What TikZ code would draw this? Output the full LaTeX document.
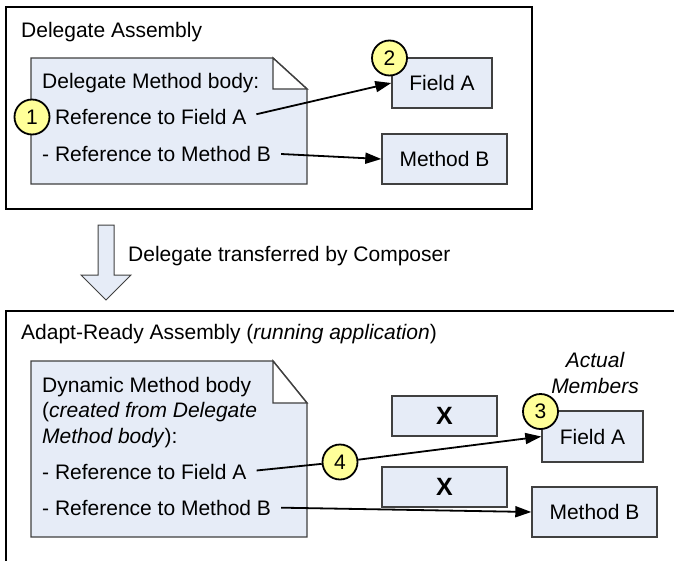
\documentclass[tikz,border=0pt]{standalone}
\usepackage{fontspec}
\setmainfont{Liberation Sans}
\usetikzlibrary{arrows.meta}
\definecolor{paleblue}{HTML}{E6ECF7}
\definecolor{paleyellow}{HTML}{FFFF99}
\definecolor{edgegray}{HTML}{404040}

\begin{document}
\begin{tikzpicture}[x=1pt,y=-1pt,
  font=\fontsize{21}{25}\selectfont,
  frame/.style={draw=black, line width=2pt},
  notebox/.style={draw=edgegray, fill=paleblue, line width=1.4pt, line join=miter},
  member/.style={draw=edgegray, fill=paleblue, line width=1.4pt, inner sep=0pt},
  txt/.style={anchor=base west, inner sep=0pt},
  badge/.style={circle, draw=black, fill=paleyellow, line width=1.8pt,
    minimum size=35pt, inner sep=0pt},
  conn/.style={line width=1.8pt, -{Triangle[length=16pt,width=11pt]}},
  link/.style={line width=1.8pt},
]
\useasboundingbox (0,0) rectangle (674,560);

% ---------- Delegate Assembly ----------
\draw[frame] (6,7) rectangle (532,209);
\node[txt] (t1) at (21,37) {Delegate Assembly};

% note with folded corner
\draw[notebox] (31,58) -- (273,58) -- (307,89) -- (307,184) -- (31,184) -- cycle;
\draw[notebox, fill=white] (273,58) -- (273,89) -- (307,89) -- cycle;
\node[txt] (n1a) at (42,88) {Delegate Method body:};
\node[txt] (n1b) at (42,124) {- Reference to Field A};
\node[txt] (n1c) at (42,161) {- Reference to Method B};

\node[member, minimum width=100pt, minimum height=50pt] (fa1) at (442,83) {Field A};
\node[member, minimum width=125pt, minimum height=50pt] (mb1) at (444.5,159) {Method B};

\draw[conn, shorten <=10pt] (n1b.east) -- (fa1.west);
\draw[conn, shorten <=10pt] (n1c.east) -- (mb1.west);

\node[badge] (c1) at (32,117) {1};
\node[badge] (c2) at (389.5,58) {2};

% ---------- transfer arrow ----------
\draw[draw=edgegray, fill=paleblue, line width=1pt, line join=miter]
  (98,225) -- (114,225) -- (114,275) -- (131,275) -- (106,300)
  -- (81,275) -- (98,275) -- cycle;
\node[txt] (tr) at (128,261) {Delegate transferred by Composer};

% ---------- Adapt-Ready Assembly ----------
\begin{scope}
  \clip (0,0) rectangle (674,560);
  \draw[frame] (6,311) rectangle (700,600);
\end{scope}
\node[txt] (t2) at (21,339) {Adapt-Ready Assembly (\textit{running application})};

\draw[notebox] (31,361) -- (273,361) -- (307,403) -- (307,537) -- (31,537) -- cycle;
\draw[notebox, fill=white] (273,361) -- (273,403) -- (307,403) -- cycle;
\node[txt] (n2a) at (42,392) {Dynamic Method body};
\node[txt] (n2b) at (42,417) {(\textit{created from Delegate}};
\node[txt] (n2c) at (42,443) {\textit{Method body}):};
\node[txt] (n2d) at (42,479) {- Reference to Field A};
\node[txt] (n2e) at (42,515) {- Reference to Method B};

\node[anchor=base, inner sep=0pt] (act1) at (595,367) {\itshape Actual};
\node[anchor=base, inner sep=0pt] (act2) at (595,393) {\itshape Members};

\node[member, minimum width=105pt, minimum height=40pt,
  font=\fontsize{25}{28}\selectfont\bfseries] (x1) at (444.5,416) {X};
\node[member, minimum width=125pt, minimum height=40pt,
  font=\fontsize{25}{28}\selectfont\bfseries] (x2) at (444.5,487) {X};

\node[member, minimum width=101pt, minimum height=51pt] (fa2) at (592.5,436.5) {Field A};
\node[member, minimum width=125pt, minimum height=50pt] (mb2) at (594.5,512) {Method B};

\node[badge] (c4) at (340,462) {4};
\draw[link, shorten <=10pt] (n2d.east) -- (c4);
\draw[conn] (c4) -- (fa2.west);
\draw[conn, shorten <=10pt] (n2e.east) -- (mb2.west);

\node[badge] (c3) at (540.5,411.5) {3};
\end{tikzpicture}
\end{document}
